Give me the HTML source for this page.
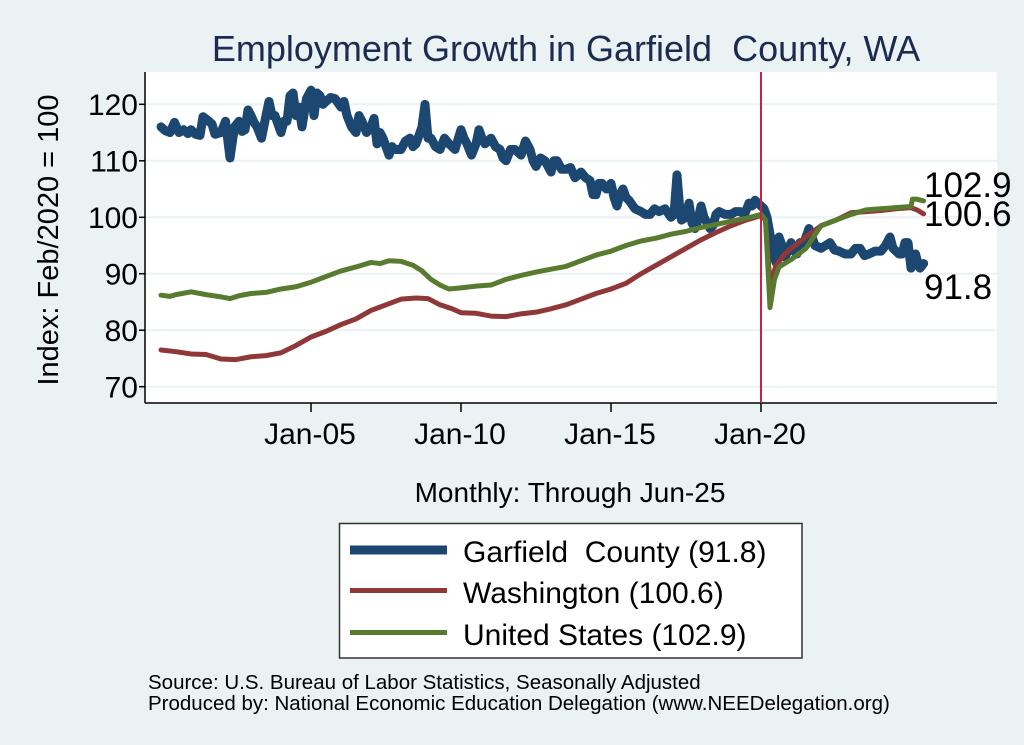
<!DOCTYPE html>
<html><head><meta charset="utf-8"><style>
body{margin:0;background:#eaf2f3;}
svg{display:block;font-family:"Liberation Sans",Arial,sans-serif;}
</style></head><body>
<svg width="1024" height="745" viewBox="0 0 1024 745">
<rect width="1024" height="745" fill="#eaf2f3"/>
<rect x="145" y="72" width="852" height="331" fill="#fff"/>
<g stroke="#eaf2f3" stroke-width="2">
<line x1="145" x2="997" y1="104.3" y2="104.3"/>
<line x1="145" x2="997" y1="160.8" y2="160.8"/>
<line x1="145" x2="997" y1="217.3" y2="217.3"/>
<line x1="145" x2="997" y1="273.7" y2="273.7"/>
<line x1="145" x2="997" y1="330.2" y2="330.2"/>
<line x1="145" x2="997" y1="386.7" y2="386.7"/>
</g>
<g stroke="#000" stroke-width="1.5">
<line x1="145" x2="145" y1="72" y2="403"/>
<line x1="145" x2="997" y1="403" y2="403"/>
<line x1="139" x2="145" y1="104.3" y2="104.3"/>
<line x1="139" x2="145" y1="160.8" y2="160.8"/>
<line x1="139" x2="145" y1="217.3" y2="217.3"/>
<line x1="139" x2="145" y1="273.7" y2="273.7"/>
<line x1="139" x2="145" y1="330.2" y2="330.2"/>
<line x1="139" x2="145" y1="386.7" y2="386.7"/>
<line x1="311" x2="311" y1="403" y2="412"/>
<line x1="461" x2="461" y1="403" y2="412"/>
<line x1="611" x2="611" y1="403" y2="412"/>
<line x1="761" x2="761" y1="403" y2="412"/>
</g>
<g font-size="30" text-anchor="end" fill="#000">
<text x="138" y="115">120</text>
<text x="138" y="171.5">110</text>
<text x="138" y="228">100</text>
<text x="138" y="284.5">90</text>
<text x="138" y="341">80</text>
<text x="138" y="397.5">70</text>
</g>
<g font-size="30" text-anchor="middle">
<text x="310" y="444">Jan-05</text>
<text x="460" y="444">Jan-10</text>
<text x="610" y="444">Jan-15</text>
<text x="760" y="444">Jan-20</text>
</g>
<text x="570" y="502" font-size="28" text-anchor="middle">Monthly: Through Jun-25</text>
<text x="566" y="61" font-size="36" text-anchor="middle" fill="#1c2b50" xml:space="preserve">Employment Growth in Garfield  County, WA</text>
<text transform="translate(58,240) rotate(-90)" font-size="29" text-anchor="middle">Index: Feb/2020 = 100</text>

<g transform="translate(161,782.06) scale(30,-5.648)" fill="none" stroke-linejoin="round" stroke-linecap="round">
<polyline vector-effect="non-scaling-stroke" stroke="#1c4770" stroke-width="9" points="0,116 0.15,115.3 0.3,115 0.45,116.8 0.6,115 0.75,115.5 0.9,114.8 1,115.5 1.15,114.7 1.3,114.5 1.4,117.8 1.55,117.2 1.7,116.5 1.8,114.7 2,115 2.15,117 2.3,110.5 2.45,116 2.6,117 2.7,115.2 2.8,115.5 2.9,119 3,118 3.1,116.8 3.2,116 3.35,114 3.5,118 3.6,120.5 3.7,118 3.8,118 4,115 4.1,117 4.2,117 4.3,121.5 4.4,122 4.5,118 4.6,119.5 4.7,116 4.85,121 5,122.5 5.1,118 5.2,122 5.3,121.5 5.4,120 5.5,120.5 5.65,121.2 5.8,121 6,119.5 6.1,120.5 6.2,118 6.35,116 6.5,115 6.6,118 6.7,117 6.85,115 7,116 7.1,117.5 7.2,113 7.3,115 7.4,114 7.6,111 7.7,112.5 7.8,112 8,112 8.15,113.5 8.3,114 8.4,112.5 8.5,113 8.7,116 8.8,120 8.9,114 9,114 9.15,112.5 9.3,112 9.45,114 9.6,113 9.8,112 10,115.5 10.1,114 10.2,113 10.35,111 10.5,113 10.6,115.5 10.7,114 10.8,113 11,114 11.15,112.5 11.3,112 11.4,110.5 11.5,110 11.65,112 11.8,112 12,111 12.15,113.5 12.3,112 12.4,110 12.5,109 12.65,110.5 12.8,110 13,108 13.1,110 13.2,110 13.35,108.5 13.5,108.5 13.65,108.8 13.8,107 14,108 14.15,107 14.3,106.5 14.4,104 14.5,104 14.6,106 14.7,106 14.85,105 15,106 15.1,103.5 15.2,102 15.3,104 15.4,105 15.5,103.5 15.6,103 15.8,101.5 16,101 16.15,100.5 16.3,100.5 16.45,101.5 16.6,101 16.8,101.5 17,100 17.1,100.5 17.2,107.5 17.3,101 17.35,99.5 17.5,100 17.6,102.5 17.7,99 17.8,98 17.9,99.5 18,102 18.1,100 18.2,99 18.3,98 18.4,98.5 18.5,100.5 18.6,101 18.8,100.5 19,100.5 19.15,101 19.3,101 19.45,100.5 19.6,102.5 19.7,102 19.8,103 20,102 20.1,101.5 20.2,100 20.3,97 20.4,93.5 20.5,92 20.6,96.5 20.7,95 20.8,93 20.9,94 21,95.5 21.1,94 21.2,93.5 21.3,95.5 21.4,95 21.5,96.5 21.6,98 21.7,96.5 21.8,95 22,94.5 22.15,95 22.3,95.5 22.45,94.2 22.6,94 22.8,93.5 23,93.5 23.15,94.5 23.3,94.5 23.45,93.2 23.6,93.5 23.8,94 24,94 24.15,95 24.3,96.5 24.4,94.5 24.5,94 24.6,93.5 24.7,93.5 24.8,95.5 24.9,95.5 25,91 25.1,92 25.15,93.5 25.25,91.5 25.3,91 25.42,91.8"/>
<polyline vector-effect="non-scaling-stroke" stroke="#903838" stroke-width="5" points="0,76.5 0.5,76.2 1,75.8 1.5,75.7 2,74.9 2.5,74.8 3,75.3 3.5,75.5 4,76 4.5,77.3 5,78.8 5.5,79.8 6,81 6.5,82 7,83.5 7.5,84.5 8,85.5 8.5,85.7 8.9,85.6 9.3,84.5 9.7,83.8 10,83.1 10.5,83 11,82.5 11.5,82.4 12,82.9 12.5,83.2 13,83.8 13.5,84.5 14,85.5 14.5,86.5 15,87.3 15.5,88.3 16,90 16.5,91.5 17,93 17.5,94.5 18,96 18.5,97.3 19,98.5 19.5,99.5 20,100.3 20.15,99.5 20.3,88 20.5,91.5 20.8,93.5 21,94.5 21.5,96.5 22,98.5 22.5,99.5 23,100.8 23.5,101 24,101.2 24.5,101.5 25,101.7 25.2,101.3 25.42,100.6"/>
<polyline vector-effect="non-scaling-stroke" stroke="#587b2f" stroke-width="5" points="0,86.2 0.3,86 0.5,86.3 1,86.8 1.5,86.3 2,85.9 2.3,85.6 2.6,86.1 3,86.5 3.5,86.7 4,87.3 4.5,87.7 5,88.5 5.5,89.5 6,90.5 6.5,91.2 7,92 7.3,91.8 7.6,92.3 8,92.2 8.4,91.5 8.7,90.5 9,89 9.3,88 9.6,87.3 10,87.5 10.5,87.8 11,88 11.5,89 12,89.7 12.5,90.3 13,90.8 13.5,91.3 14,92.3 14.5,93.3 15,94 15.5,95 16,95.8 16.5,96.3 17,97 17.5,97.5 18,98.2 18.5,98.7 19,99.3 19.5,99.8 20,100.5 20.15,99.5 20.3,84 20.45,89 20.6,91.2 21,92.5 21.5,94.5 22,98.5 22.5,99.5 23,100.5 23.5,101.3 24,101.5 24.5,101.7 25,101.9 25.05,103.2 25.2,103.2 25.42,102.9"/>
</g>
<line x1="761" x2="761" y1="72" y2="403" stroke="#cc1f4a" stroke-width="2"/>
<g font-size="35">
<text x="924" y="197">102.9</text>
<text x="924" y="226">100.6</text>
<text x="924" y="299">91.8</text>
</g>
<rect x="339.5" y="523.5" width="462.5" height="134.5" fill="#fff" stroke="#333" stroke-width="1.5"/>
<rect x="350" y="545.5" width="97" height="9" fill="#1c4770"/>
<rect x="350" y="588" width="97" height="5" fill="#903838"/>
<rect x="350" y="630" width="97" height="5" fill="#587b2f"/>
<g font-size="30">
<text x="463" y="562" xml:space="preserve">Garfield  County (91.8)</text>
<text x="463" y="603">Washington (100.6)</text>
<text x="463" y="645">United States (102.9)</text>
</g>
<g font-size="20.5">
<text x="148" y="689">Source: U.S. Bureau of Labor Statistics, Seasonally Adjusted</text>
<text x="148" y="710">Produced by: National Economic Education Delegation (www.NEEDelegation.org)</text>
</g>
</svg>
</body></html>
